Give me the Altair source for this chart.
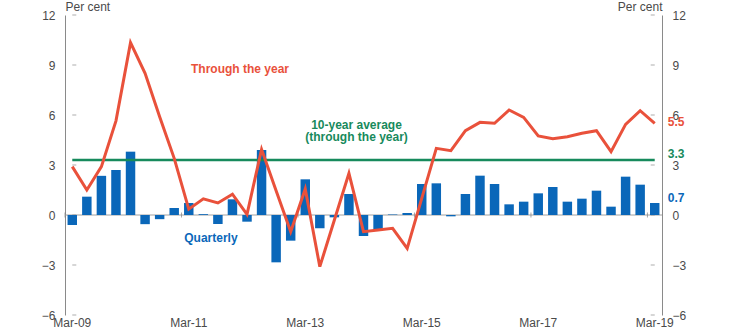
import altair as alt
import pandas as pd

quarters = [
    "Mar-09", "Jun-09", "Sep-09", "Dec-09",
    "Mar-10", "Jun-10", "Sep-10", "Dec-10",
    "Mar-11", "Jun-11", "Sep-11", "Dec-11",
    "Mar-12", "Jun-12", "Sep-12", "Dec-12",
    "Mar-13", "Jun-13", "Sep-13", "Dec-13",
    "Mar-14", "Jun-14", "Sep-14", "Dec-14",
    "Mar-15", "Jun-15", "Sep-15", "Dec-15",
    "Mar-16", "Jun-16", "Sep-16", "Dec-16",
    "Mar-17", "Jun-17", "Sep-17", "Dec-17",
    "Mar-18", "Jun-18", "Sep-18", "Dec-18",
    "Mar-19",
]
quarterly = [
    -0.6, 1.1, 2.35, 2.7,
    3.8, -0.55, -0.25, 0.42,
    0.72, 0.05, -0.54, 0.94,
    -0.4, 3.9, -2.84, -1.54,
    2.14, -0.8, -0.14, 1.26,
    -1.26, -0.84, 0.03, 0.12,
    1.86, 1.9, -0.08, 1.26,
    2.36, 1.86, 0.64, 0.8,
    1.3, 1.68, 0.8, 0.98,
    1.46, 0.5, 2.3, 1.82,
    0.72,
]
through_year = [
    2.9, 1.5, 2.9, 5.65,
    10.34, 8.5, 5.9, 3.4,
    0.35, 0.97, 0.72, 1.25,
    0.04, 3.94, 1.45, -1.0,
    1.56, -3.1, -0.3, 2.5,
    -1.0, -0.9, -0.8, -2.0,
    1.0, 4.0, 3.86, 5.06,
    5.56, 5.5, 6.3, 5.86,
    4.74, 4.58, 4.7, 4.9,
    5.06, 3.8, 5.44, 6.26,
    5.5,
]
ten_year_avg = 3.3
x_tick_labels = ["Mar-09", "Mar-11", "Mar-13", "Mar-15", "Mar-17", "Mar-19"]
y_ticks = [-6, -3, 0, 3, 6, 9, 12]

BLUE = "#0A67B9"
RED = "#E9513B"
GREEN = "#178A5C"
AXIS_GREY = "#8A8A8A"
LABEL = "#4A4A4A"
FONT = "Liberation Sans"

df = pd.DataFrame({"q": quarters, "quarterly": quarterly, "tty": through_year})

xscale = alt.Scale(domain=quarters, paddingInner=0, paddingOuter=0)
yscale = alt.Scale(domain=[-6, 12], nice=False, zero=False)

x_enc = alt.X(
    "q:N", scale=xscale, sort=quarters, title=None,
    axis=alt.Axis(values=x_tick_labels, labelAngle=0, domain=False, ticks=False,
                  labelPadding=7, labelFontSize=12, labelColor=LABEL, labelFont=FONT,
                  grid=False, bandPosition=0.5, labelAlign="center"),
)

def y_axis(orient, align):
    return alt.Axis(
        orient=orient, values=y_ticks, title="Per cent", titleAngle=0,
        titleAlign=align, titleX=0, titleY=-5, titleBaseline="alphabetic",
        titleFont=FONT, titleFontSize=12, titleFontWeight="normal", titleColor=LABEL,
        labelFont=FONT, labelFontSize=12, labelColor=LABEL, labelPadding=10,
        ticks=False, domainColor=AXIS_GREY, domainWidth=1, grid=False,
    )

zero_df = pd.DataFrame({"zero": [0]})
zero_rule = alt.Chart(zero_df).mark_rule(color="#A0A0A0", strokeWidth=1).encode(
    y=alt.Y("zero:Q", scale=yscale, axis=None)
)

tick_df = pd.DataFrame({"q": x_tick_labels, "zero": [0] * len(x_tick_labels)})
zero_ticks = alt.Chart(tick_df).mark_tick(orient="vertical", size=5, thickness=1, color="#808080").encode(
    x=alt.X("q:N", scale=xscale, bandPosition=0),
    y=alt.Y("zero:Q", scale=yscale, axis=None),
)

# small inward ticks on both value axes
ytick_left_df = pd.DataFrame({"q": [quarters[0]] * len(y_ticks), "v": y_ticks})
ytick_right_df = pd.DataFrame({"q": [quarters[-1]] * len(y_ticks), "v": y_ticks})
ytick_left = alt.Chart(ytick_left_df).mark_tick(
    orient="horizontal", size=4, thickness=1, color=AXIS_GREY, xOffset=2
).encode(
    x=alt.X("q:N", scale=xscale, bandPosition=0),
    y=alt.Y("v:Q", scale=yscale, axis=None),
)
ytick_right = alt.Chart(ytick_right_df).mark_tick(
    orient="horizontal", size=4, thickness=1, color=AXIS_GREY, xOffset=-2
).encode(
    x=alt.X("q:N", scale=xscale, bandPosition=1),
    y=alt.Y("v:Q", scale=yscale, axis=None),
)

bars = alt.Chart(df).mark_bar(color=BLUE, width=alt.RelativeBandSize(0.65)).encode(
    x=x_enc,
    y=alt.Y("quarterly:Q", scale=yscale, axis=y_axis("left", "left")),
)

avg_df = pd.DataFrame({"start": [quarters[0]], "end": [quarters[-1]], "v": [ten_year_avg]})
avg_rule = alt.Chart(avg_df).mark_rule(color=GREEN, strokeWidth=2.5).encode(
    x=alt.X("start:N", scale=xscale, bandPosition=0.5),
    x2="end:N",
    y=alt.Y("v:Q", scale=yscale, axis=None),
)

line = alt.Chart(df).mark_line(color=RED, strokeWidth=3, strokeJoin="miter").encode(
    x=alt.X("q:N", scale=xscale),
    y=alt.Y("tty:Q", scale=yscale, axis=y_axis("right", "right")),
)

ann_df = pd.DataFrame({
    "q": ["Mar-12", "Sep-11", "Mar-14"],
    "v": [8.76, -1.38, 5.4],
    "t": ["Through the year", "Quarterly", "10-year average\n(through the year)"],
    "c": [RED, BLUE, GREEN],
})
ann = alt.Chart(ann_df).mark_text(
    font=FONT, fontSize=12, fontWeight="bold", align="center", baseline="middle",
    lineBreak="\n", lineHeight=12, dx=-7,
).encode(
    x=alt.X("q:N", scale=xscale),
    y=alt.Y("v:Q", scale=yscale, axis=None),
    text="t:N",
    color=alt.Color("c:N", scale=None),
)

end_values = [through_year[-1], ten_year_avg, quarterly[-1]]
end_colors = [RED, GREEN, BLUE]
end_dy = [-1, -6, -5]
end_layers = []
for val, col, dy in zip(end_values, end_colors, end_dy):
    d = pd.DataFrame({"q": [quarters[-1]], "v": [val], "t": [f"{val:.1f}"]})
    end_layers.append(
        alt.Chart(d).mark_text(
            font=FONT, fontSize=12, fontWeight="bold", align="left", baseline="middle",
            dx=13, dy=dy, color=col,
        ).encode(
            x=alt.X("q:N", scale=xscale),
            y=alt.Y("v:Q", scale=yscale, axis=None),
            text="t:N",
        )
    )

chart = alt.layer(
    zero_rule, zero_ticks, ytick_left, ytick_right, bars, avg_rule, line, ann, *end_layers
).resolve_scale(y="shared").resolve_axis(y="independent").properties(
    width=597, height=300,
    autosize=alt.AutoSizeParams(type="none"),
    padding={"left": 65, "top": 15, "right": 92, "bottom": 19},
    background="white",
).configure_view(stroke=None)

chart.save("out.html", embed_options={"renderer": "svg", "actions": False})
